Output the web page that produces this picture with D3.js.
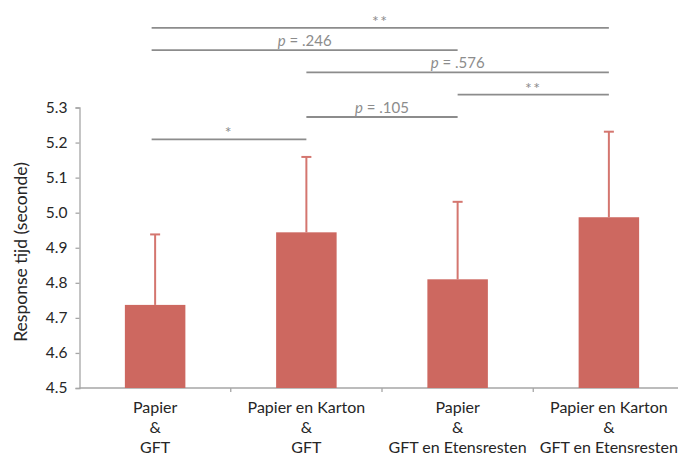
<!DOCTYPE html>
<html><head><meta charset="utf-8">
<script src="https://cdn.jsdelivr.net/npm/d3@7"></script>
<style>
html,body{margin:0;padding:0;background:#fff;}
svg{display:block;font-family:Lato,"Open Sans",sans-serif;}
</style></head>
<body>
<svg id="chart" width="678" height="454"></svg>
<script>
const categories = [
  ["Papier", "&", "GFT"],
  ["Papier en Karton", "&", "GFT"],
  ["Papier", "&", "GFT en Etensresten"],
  ["Papier en Karton", "&", "GFT en Etensresten"]
];
const means = [4.737, 4.944, 4.810, 4.987];
const errors = [0.201, 0.215, 0.221, 0.244];
const yTicks = [4.5, 4.6, 4.7, 4.8, 4.9, 5.0, 5.1, 5.2, 5.3];
// comparisons: from index, to index, label, stacking level (0 = lowest)
const compFrom = [0, 1, 2, 1, 0, 0];
const compTo   = [1, 2, 3, 3, 2, 3];
const compLabel = ["*", "p = .105", "**", "p = .576", "p = .246", "**"];
const compLevel = [0, 1, 2, 3, 4, 5];
const yTitle = "Response tijd (seconde)";

const svg = d3.select("#chart");
const ids = categories.map((c, i) => i);
const x = d3.scaleBand().domain(ids).range([79.5, 684.5]).paddingInner(0.6).paddingOuter(0.3);
const y = d3.scaleLinear().domain([4.5, 5.3]).range([388, 107.5]);
const axisColor = "#a6a6a6";
const barColor = "#cd6860";
const errColor = "#d4766f";
const sigColor = "#8c8c8c";
const txtColor = "#262626";

// y axis
const yAxis = svg.append("g").attr("transform", "translate(79.5,0)")
  .call(d3.axisLeft(y).tickValues(yTicks).tickFormat(d3.format(".1f")).tickSizeOuter(0).tickSize(4));
yAxis.select(".domain").attr("stroke", axisColor).attr("stroke-width", 1.3);
yAxis.selectAll(".tick line").attr("stroke", axisColor).attr("stroke-width", 1.3);
yAxis.selectAll(".tick text").attr("fill", txtColor).attr("font-size", 15.5).attr("x", -12)
  .attr("font-family", "Lato, 'Open Sans', sans-serif");

// x axis
const step = x.step();
const xAxis = svg.append("g").attr("transform", "translate(0,388)");
xAxis.append("line").attr("x1", 79.5).attr("x2", 690).attr("y1", 0).attr("y2", 0)
  .attr("stroke", axisColor).attr("stroke-width", 1.3);
xAxis.selectAll("line.tk").data(ids.slice(1)).enter().append("line").attr("class", "tk")
  .attr("x1", d => x(d) - x.paddingInner() * step / 2)
  .attr("x2", d => x(d) - x.paddingInner() * step / 2)
  .attr("y1", 0).attr("y2", 4).attr("stroke", axisColor).attr("stroke-width", 1.3);
const lbl = xAxis.selectAll("text.cat").data(ids).enter().append("text").attr("class", "cat")
  .attr("text-anchor", "middle").attr("fill", txtColor).attr("font-size", 16);
lbl.each(function(d) {
  const t = d3.select(this);
  categories[d].forEach((s, k) => {
    t.append("tspan").attr("x", x(d) + x.bandwidth() / 2).attr("y", 24.5 + k * 20).text(s);
  });
});

// error bars (behind bars)
const cx = d => x(d) + x.bandwidth() / 2;
const eb = svg.append("g");
ids.forEach(i => {
  eb.append("line").attr("x1", cx(i)).attr("x2", cx(i))
    .attr("y1", y(means[i])).attr("y2", y(means[i] + errors[i]))
    .attr("stroke", errColor).attr("stroke-width", 2);
  eb.append("line").attr("x1", cx(i) - 5).attr("x2", cx(i) + 5)
    .attr("y1", y(means[i] + errors[i])).attr("y2", y(means[i] + errors[i]))
    .attr("stroke", errColor).attr("stroke-width", 2);
});

// bars
svg.append("g").selectAll("rect").data(ids).enter().append("rect")
  .attr("x", d => x(d)).attr("width", x.bandwidth())
  .attr("y", d => y(means[d])).attr("height", d => y(4.5) - y(means[d]))
  .attr("fill", barColor);

// significance brackets
const sig = svg.append("g");
const levelY = lv => 139.3 - lv * 22.3;
compFrom.forEach((f, k) => {
  const yy = levelY(compLevel[k]);
  const x1 = f === 0 ? cx(f) - 3.5 : cx(f);
  const x2 = cx(compTo[k]);
  sig.append("line").attr("x1", x1).attr("x2", x2).attr("y1", yy).attr("y2", yy)
    .attr("stroke", sigColor).attr("stroke-width", 1.8);
  const lab = compLabel[k];
  const t = sig.append("text").attr("x", (x1 + x2) / 2).attr("text-anchor", "middle")
    .attr("fill", sigColor);
  if (lab.startsWith("p")) {
    t.attr("y", yy - 4).attr("font-size", 15);
    t.append("tspan").attr("font-style", "italic").text("p");
    t.append("tspan").text(lab.slice(1));
  } else {
    t.attr("y", yy - 1).attr("font-size", 16).attr("letter-spacing", 1.5).text(lab);
  }
});

// y title
svg.append("text").attr("transform", "translate(27,252) rotate(-90)")
  .attr("text-anchor", "middle").attr("fill", txtColor).attr("font-size", 17.5).text(yTitle);
</script>
</body></html>
